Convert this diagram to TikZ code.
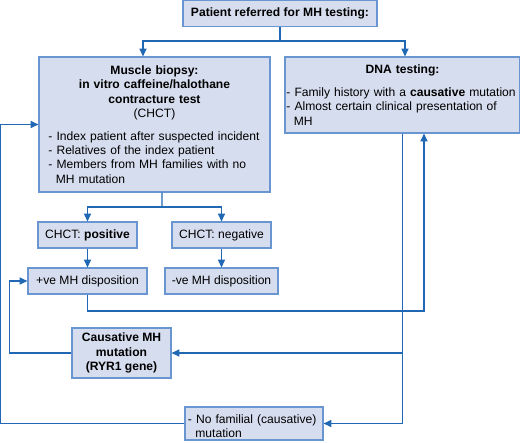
\documentclass[tikz,border=0pt]{standalone}
\usepackage{fontspec}
\setmainfont{Liberation Sans}
\usepackage{xcolor}
\usetikzlibrary{arrows.meta,calc}

\definecolor{boxfill}{RGB}{214,221,238}
\definecolor{boxline}{RGB}{105,150,208}
\definecolor{flowline}{RGB}{32,104,180}
\newcommand{\dashitem}[1]{\par\noindent\hangindent=0.611em\hangafter=1 - #1}
\newcommand{\wrapline}{\hfil\break}
\tikzset{
  box/.style={draw=boxline, fill=boxfill, line width=0.8pt, inner sep=0pt, font=\fontsize{8.6}{10.2}\selectfont},
  link/.style={draw=flowline, line width=0.8pt},
  flow/.style={link, -{Triangle[length=5.5pt,width=5pt]}},
}

\begin{document}
\begin{tikzpicture}[x=0.025cm,y=-0.025cm]
\useasboundingbox (0,0) rectangle (520,442);

% boxes
\node[box, minimum width=4.85cm, minimum height=0.65cm] (referral) at (280,13.5) {\bfseries Patient referred for MH testing:};
\node[box, text width=5.3cm, inner xsep=0.2375cm, minimum height=3.375cm] (biopsy) at (154.5,124.5) {%
  {\centering\bfseries Muscle biopsy:\\ in vitro caffeine/halothane\\ contracture test\par}
  {\centering (CHCT)\par}\vspace{6pt}\raggedright
  \dashitem{Index patient after suspected incident}
  \dashitem{Relatives of the index patient}
  \dashitem{Members from MH families with no\wrapline MH mutation}\par};
\node[box, text width=5.8cm, inner xsep=0.0375cm, minimum height=1.9cm] (dna) at (402.5,95) {%
  {\centering\bfseries DNA testing:\par}\vspace{6pt}\raggedright
  \dashitem{Family history with a \textbf{causative} mutation}
  \dashitem{Almost certain clinical presentation of\wrapline MH}\par};

\node[box, minimum width=2.475cm, minimum height=0.65cm] (positive) at (87.5,235) {CHCT: \textbf{positive}};
\node[box, minimum width=2.475cm, minimum height=0.65cm] (negative) at (221.5,235) {CHCT: negative};
\node[box, minimum width=2.975cm, minimum height=0.65cm] (posdisp) at (87.5,281) {+ve MH disposition};
\node[box, minimum width=2.825cm, minimum height=0.65cm] (negdisp) at (221.5,281) {-ve MH disposition};

\node[box, align=center, minimum width=2.475cm, minimum height=1.25cm] (causative) at (121.5,353) {\bfseries Causative MH\\ \bfseries mutation\\ \bfseries (RYR1 gene)};
\node[box, text width=3.3cm, inner xsep=0.075cm, minimum height=0.825cm] (nofamilial) at (254,423.5) {\raggedright\dashitem{No familial (causative)\wrapline mutation}\par};

% junctions
\coordinate (split) at (280,41);
\coordinate (split2) at (162,207);
\coordinate (loop) at (424,311);

% connectors
\draw[link] (referral) -- (split);
\draw[flow] (split) -| ($(biopsy.north)+(-11.5,0)$);
\draw[flow] (split) -| ($(dna.north)+(2.5,0)$);
\draw[link] ($(biopsy.south)+(7.5,0)$) -- (split2);
\draw[flow] (split2) -| (positive.north);
\draw[flow] (split2) -| (negative.north);
\draw[flow] (positive) -- (posdisp);
\draw[flow] (negative) -- (negdisp);
\draw[flow] (posdisp.south) |- (loop) -- (loop |- dna.south);
\draw[flow] (dna.south) |- (nofamilial.east);
\draw[flow] (dna.south |- causative.east) -- (causative.east);
\draw[flow] (causative.west) -- ++(-62,0) |- (posdisp.west);
\draw[flow] (nofamilial.west) -- ++(-184,0) |- (biopsy.west);
\end{tikzpicture}
\end{document}
